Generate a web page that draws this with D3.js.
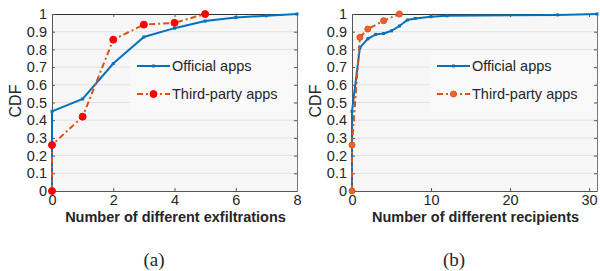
<!DOCTYPE html>
<html>
<head>
<meta charset="utf-8">
<script src="https://cdn.jsdelivr.net/npm/d3@7"></script>
<style>
  body { margin: 0; background: #fff; }
  svg text { font-family: "Liberation Sans", Arial, sans-serif; fill: #262626; }
</style>
</head>
<body>
<svg id="chart" width="600" height="271"></svg>
<script>
// data for panel (a): number of different exfiltrations
var officialA = [[0, 0], [0, 0.45], [1, 0.52], [2, 0.72], [3, 0.87], [4, 0.92], [5, 0.96], [6, 0.98], [7, 0.99], [8, 1.0]];
var thirdA = [[0, 0], [0, 0.26], [1, 0.42], [2, 0.855], [3, 0.94], [4, 0.95], [5, 1.0]];
var xTicksA = [0, 2, 4, 6, 8];

// data for panel (b): number of different recipients
var officialB = [[0, 0], [0, 0.45], [1, 0.81], [2, 0.86], [3, 0.885], [4, 0.89], [5, 0.905], [6, 0.932], [7, 0.966], [8, 0.975], [10, 0.985], [12, 0.99], [26, 0.995], [31, 1.0]];
var thirdB = [[0, 0], [0, 0.26], [1, 0.868], [2, 0.915], [4, 0.962], [6, 1.0]];
var xTicksB = [0, 10, 20, 30];

var yTicks = d3.range(0, 11).map(function(i) { return i / 10; });
var seriesNames = ["Official apps", "Third-party apps"];

var svg = d3.select("#chart");
var blue = "#0072BD", orange = "#D95319";

function panel(opt) {
  var x = d3.scaleLinear().domain(opt.xDomain).range([opt.left, opt.right]);
  var y = d3.scaleLinear().domain([0, 1]).range([191, 14]);
  var g = svg.append("g");

  // background
  g.append("rect")
    .attr("x", opt.left).attr("y", y(1))
    .attr("width", opt.right - opt.left).attr("height", y(0) - y(1))
    .attr("fill", "#f7f7f7");

  // horizontal grid
  g.selectAll(".grid").data(yTicks.slice(1, 10)).enter().append("line")
    .attr("x1", opt.left).attr("x2", opt.right)
    .attr("y1", function(d) { return y(d); }).attr("y2", function(d) { return y(d); })
    .attr("stroke", "#e2e2e2").attr("stroke-width", 1);

  // legend box hides the grid
  var lx = opt.legendX;
  g.append("rect")
    .attr("x", lx).attr("y", 55)
    .attr("width", opt.right - 2 - lx).attr("height", 57)
    .attr("fill", "#f9f9f9");

  // axes, ticks inward
  var axisColor = "#555";
  var bottom = g.append("g").attr("transform", "translate(0," + y(0) + ")")
    .call(d3.axisBottom(x).tickValues(opt.xTicks).tickSizeInner(-3).tickSizeOuter(0).tickPadding(4));
  var top = g.append("g").attr("transform", "translate(0," + y(1) + ")")
    .call(d3.axisTop(x).tickValues(opt.xTicks).tickSizeInner(-3).tickSizeOuter(0).tickFormat(""));
  var left = g.append("g").attr("transform", "translate(" + opt.left + ",0)")
    .call(d3.axisLeft(y).tickValues(yTicks).tickSizeInner(-3).tickSizeOuter(0).tickPadding(5).tickFormat(d3.format("~g")));
  var right = g.append("g").attr("transform", "translate(" + opt.right + ",0)")
    .call(d3.axisRight(y).tickValues(yTicks).tickSizeInner(-3).tickSizeOuter(0).tickFormat(""));
  [bottom, top, left, right].forEach(function(a) {
    a.select(".domain").attr("stroke", axisColor).attr("stroke-width", 1);
    a.selectAll(".tick line").attr("stroke", axisColor);
    a.selectAll("text").style("font-size", "14.5px").attr("fill", "#262626");
  });
  top.select(".domain").attr("stroke", "#333");
  right.select(".domain").attr("stroke", "#777");

  var line = d3.line().x(function(d) { return x(d[0]); }).y(function(d) { return y(d[1]); });

  // official apps
  g.append("path").datum(opt.official).attr("d", line)
    .attr("fill", "none").attr("stroke", blue).attr("stroke-width", 2);
  g.selectAll(".mo").data(opt.official).enter().append("rect")
    .attr("x", function(d) { return x(d[0]) - 1.5; }).attr("y", function(d) { return y(d[1]) - 1.5; })
    .attr("width", 3).attr("height", 3).attr("fill", blue);

  // third-party apps
  g.append("path").datum(opt.third).attr("d", line)
    .attr("fill", "none").attr("stroke", orange).attr("stroke-width", 2)
    .attr("stroke-dasharray", "6,3,2,3");
  g.selectAll(".mt").data(opt.third).enter().append("circle")
    .attr("cx", function(d) { return x(d[0]); }).attr("cy", function(d) { return y(d[1]); })
    .attr("r", opt.markR).attr("fill", opt.markFill).attr("stroke", opt.markStroke).attr("stroke-width", 1);

  // legend
  var ly = [66, 94];
  g.append("line").attr("x1", lx + 7).attr("x2", lx + 40).attr("y1", ly[0]).attr("y2", ly[0])
    .attr("stroke", blue).attr("stroke-width", 2);
  g.append("rect").attr("x", lx + 22).attr("y", ly[0] - 1.5).attr("width", 3).attr("height", 3).attr("fill", blue);
  g.append("line").attr("x1", lx + 7).attr("x2", lx + 40).attr("y1", ly[1]).attr("y2", ly[1])
    .attr("stroke", orange).attr("stroke-width", 2).attr("stroke-dasharray", "6,3,2,3");
  g.append("circle").attr("cx", lx + 23.5).attr("cy", ly[1]).attr("r", opt.markR)
    .attr("fill", opt.markFill).attr("stroke", opt.markStroke);
  g.selectAll(".lt").data(seriesNames).enter().append("text")
    .attr("x", lx + 42).attr("y", function(d, i) { return ly[i]; })
    .attr("dy", "0.35em").style("font-size", "14.5px").text(function(d) { return d; });

  // axis labels
  g.append("text")
    .attr("x", (opt.left + opt.right) / 2 + 1).attr("y", 222)
    .attr("text-anchor", "middle").style("font-size", "14.5px").style("font-weight", "bold")
    .attr("fill", "#000").text(opt.xLabel);
  g.append("text")
    .attr("transform", "translate(" + (opt.left - 31) + "," + 101 + ") rotate(-90)")
    .attr("text-anchor", "middle").style("font-size", "16px").text("CDF");
  g.append("text")
    .attr("x", opt.left + 102).attr("y", 266)
    .attr("text-anchor", "middle")
    .style("font-family", "'Liberation Serif', 'Times New Roman', serif").style("font-size", "19px")
    .attr("fill", "#000").text(opt.caption);
}

panel({ left: 52, right: 297, xDomain: [0, 8], xTicks: xTicksA, official: officialA, third: thirdA,
  legendX: 130, markFill: "#ff0000", markStroke: "#ff0000", markR: 3.5,
  xLabel: "Number of different exfiltrations", caption: "(a)" });
panel({ left: 352, right: 597, xDomain: [0, 31], xTicks: xTicksB, official: officialB, third: thirdB,
  legendX: 430, markFill: "#e8662e", markStroke: orange, markR: 3,
  xLabel: "Number of different recipients", caption: "(b)" });
</script>
</body>
</html>
